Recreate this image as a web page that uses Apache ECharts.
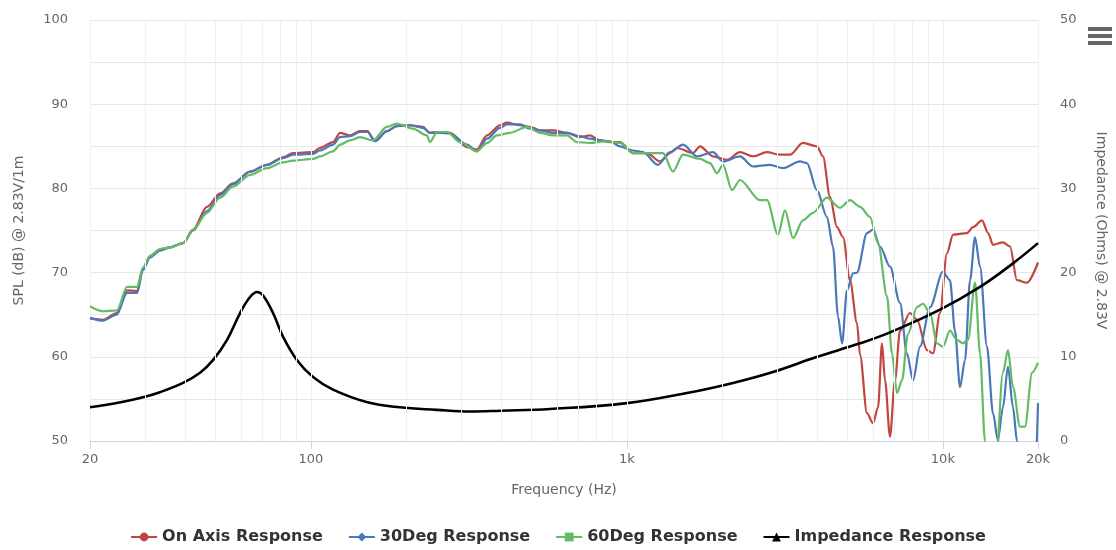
<!DOCTYPE html>
<html>
<head>
<meta charset="utf-8">
<script src="https://cdn.jsdelivr.net/npm/echarts@6/dist/echarts.min.js"></script>
<style>
html,body{margin:0;padding:0;background:#fff;}
#chart{width:1116px;height:550px;}
</style>
</head>
<body>
<div id="chart"></div>
<script>
// ---- data (frequency Hz, value) ----
const onAxis = [[20,64.6],[22,64.4],[24.3,65.2],[26.2,67.9],[28.2,67.8],[29.4,70.5],[31,72.0],[33.3,72.7],[35.8,73.0],[39.4,73.5],[42.4,75.1],[46.9,77.8],[51.6,79.4],[56.7,80.6],[64.2,82.0],[72.6,82.8],[81.6,83.7],[87.8,84.2],[101.6,84.3],[106.9,84.8],[117.5,85.5],[123.7,86.6],[133,86.3],[143,86.8],[151,86.8],[159.6,85.6],[174,86.8],[187,87.4],[206,87.5],[226,87.3],[238,86.6],[256,86.7],[276,86.6],[312,84.9],[335,84.6],[361,86.3],[397,87.5],[417,87.8],[459,87.5],[493,87.3],[531,86.9],[584,86.9],[646,86.6],[710,86.1],[764,86.3],[822,85.7],[884,85.5],[951,85.5],[1045,84.2],[1158,84.2],[1274,83.2],[1369,84.2],[1441,84.8],[1618,84.2],[1704,85.0],[1873,83.8],[2074,83.4],[2280,84.3],[2508,83.8],[2776,84.3],[3053,84.0],[3283,84.0],[3608,85.4],[3995,85.0],[4174,83.8],[4394,79.0],[4623,75.4],[4832,74.2],[5082,69.1],[5348,64.0],[5470,60.2],[5752,53.3],[6012,52.1],[6235,54.0],[6416,61.6],[6560,57.2],[6803,50.5],[7052,57.2],[7317,63.1],[7871,65.2],[8281,64.4],[8909,60.8],[9308,60.4],[9797,65.2],[10300,72.3],[10770,74.5],[11920,74.7],[12460,75.4],[13300,76.2],[13900,74.7],[14410,73.3],[15490,73.6],[16310,73.1],[17160,69.1],[18450,68.8],[20000,71.2]];
const deg30 = [[20,64.6],[22,64.3],[24.3,65.0],[26.2,67.6],[28.2,67.6],[29.4,70.3],[31,71.8],[33.3,72.6],[35.8,73.0],[39.4,73.5],[42.4,75.0],[46.9,77.3],[51.6,79.2],[56.7,80.5],[64.2,82.0],[72.6,82.8],[81.6,83.6],[87.8,84.0],[101.6,84.1],[106.9,84.5],[117.5,85.2],[123.7,86.1],[133,86.2],[143,86.7],[151,86.7],[159.6,85.6],[174,86.8],[187,87.4],[206,87.5],[226,87.2],[238,86.6],[256,86.6],[276,86.5],[312,85.2],[335,84.4],[361,85.9],[397,87.2],[417,87.6],[459,87.6],[493,87.1],[531,86.9],[584,86.6],[646,86.6],[710,86.2],[764,85.9],[822,85.7],[884,85.6],[951,85.0],[1045,84.5],[1125,84.3],[1253,82.8],[1369,84.3],[1505,85.2],[1667,83.8],[1873,84.3],[2015,83.2],[2280,83.8],[2508,82.6],[2838,82.8],[3120,82.4],[3532,83.2],[3714,83.0],[3995,79.8],[4297,76.6],[4490,73.1],[4657,64.8],[4798,61.6],[4972,67.9],[5196,69.9],[5348,70.0],[5752,74.7],[6012,75.1],[6325,73.1],[6803,70.7],[7317,66.4],[7696,60.4],[8047,57.2],[8464,61.2],[9107,65.9],[10000,70.1],[10530,69.1],[10920,63.1],[11330,56.4],[11750,59.6],[12190,69.1],[12640,74.2],[13110,70.7],[13790,61.2],[14410,53.3],[14930,50.1],[15490,54.0],[16070,58.8],[16670,54.0],[17160,50.0],[18000,44],[19500,44],[20000,54.5]];
const deg60 = [[20,66.0],[22,65.4],[24.3,65.5],[26.2,68.3],[28.2,68.3],[29.4,70.6],[31,72.0],[33.3,72.8],[35.8,73.0],[39.4,73.5],[42.4,75.1],[46.9,77.1],[51.6,78.9],[56.7,80.2],[64.2,81.6],[72.6,82.4],[81.6,83.1],[87.8,83.3],[101.6,83.5],[106.9,83.8],[117.5,84.4],[123.7,85.2],[133,85.7],[143,86.1],[157,85.7],[174,87.3],[187,87.7],[210,87.1],[233,86.3],[238,85.5],[251,86.7],[270,86.7],[296,85.5],[335,84.4],[361,85.4],[388,86.3],[427,86.6],[483,87.3],[531,86.6],[584,86.3],[646,86.3],[695,85.5],[764,85.4],[865,85.6],[951,85.4],[1045,84.2],[1209,84.2],[1301,84.2],[1399,82.0],[1505,84.0],[1704,83.5],[1833,83.0],[1928,81.8],[2015,82.8],[2151,79.8],[2280,81.0],[2638,78.6],[2776,78.6],[3008,74.5],[3164,77.4],[3356,74.1],[3608,76.2],[3882,77.1],[4297,78.9],[4724,77.7],[5082,78.6],[5470,77.8],[5880,76.6],[6235,73.5],[6655,67.2],[6902,60.4],[7157,55.7],[7424,57.2],[7755,62.7],[8281,65.9],[8650,66.3],[9107,65.2],[9578,61.6],[10000,61.2],[10530,63.1],[11080,62.0],[11580,61.6],[12010,62.0],[12640,68.8],[13110,60.4],[13590,50.0],[14000,45],[14600,45],[15490,58.1],[16070,60.8],[16670,56.4],[17540,51.7],[18190,51.7],[19150,58.1],[20000,59.3]];
const impedance = [[20,4.0],[25,4.6],[28.8,5.1],[33.3,5.8],[39.4,6.9],[44.6,8.1],[49,9.6],[54.3,12.0],[59.7,15.2],[64.2,17.1],[67.6,17.7],[70.5,17.3],[75.9,15.2],[81.6,12.4],[90.4,9.6],[101.6,7.6],[117.5,6.1],[151,4.6],[191,4.0],[250,3.7],[319,3.5],[400,3.6],[571,3.8],[1000,4.5],[1549,5.7],[2167,6.9],[2900,8.2],[4000,10.0],[5470,11.6],[6803,12.9],[9797,15.6],[13110,18.3],[16670,21.1],[20000,23.5]];
const minorGridFreqs = [30,40,50,60,70,80,90,100,200,300,400,500,600,700,800,900,1000,2000,3000,4000,5000,6000,7000,8000,9000,10000];
const seriesNames = ['On Axis Response','30Deg Response','60Deg Response','Impedance Response'];
const seriesColors = ['#c0463f','#4a78b8','#63bb63','#000000'];
const seriesSymbols = ['circle','diamond','rect','triangle'];

const FONT = 'DejaVu Sans';
const chart = echarts.init(document.getElementById('chart'), null, {renderer:'canvas'});
const splFreqData = [onAxis, deg30, deg60];

const series = splFreqData.map((d,i)=>({
  name: seriesNames[i], type:'line', data:d, yAxisIndex:0,
  symbol: seriesSymbols[i], symbolSize: 9, showSymbol:false,
  smooth:0.3, smoothMonotone:'x', clip:true,
  lineStyle:{width:2.2, color:seriesColors[i]}, itemStyle:{color:seriesColors[i]},
  z: 3
}));
series.push({
  name: seriesNames[3], type:'line', data:impedance, yAxisIndex:1,
  symbol: seriesSymbols[3], symbolSize: 10, showSymbol:false,
  smooth:0.4, clip:true,
  lineStyle:{width:2.6, color:'#000'}, itemStyle:{color:'#000'}, z: 4
});
series.push({
  name:'grid', type:'line', data:[], yAxisIndex:0, z:1, silent:true,
  markLine:{silent:true, symbol:'none', label:{show:false},
    lineStyle:{color:'#efefef', width:1, type:'solid'},
    data: minorGridFreqs.map(f=>({xAxis:f}))}
});

chart.setOption({
  animation:false,
  backgroundColor:'#ffffff',
  textStyle:{fontFamily:FONT},
  grid:{left:90, right:78, top:20, bottom:109, containLabel:false},
  legend:{
    data: seriesNames, bottom:0, left:'center',
    itemWidth:26, itemHeight:11, itemGap:25,
    textStyle:{fontFamily:FONT, fontSize:16, fontWeight:'bold', color:'#333'}
  },
  xAxis:{
    type:'log', logBase:10, min:20, max:20000,
    name:'Frequency (Hz)', nameLocation:'middle', nameGap:42,
    nameTextStyle:{color:'#666', fontSize:14, fontFamily:FONT},
    axisLine:{show:true, lineStyle:{color:'#ccd6eb', width:1}},
    axisTick:{show:true, length:8, lineStyle:{color:'#ccd6eb'}},
    axisLabel:{color:'#666', fontSize:13, margin:12, fontFamily:FONT,
      formatter: v => v >= 1000 ? (Math.round(v/1000)) + 'k' : String(Math.round(v))},
    splitLine:{show:true, lineStyle:{color:'#efefef', width:1}}
  },
  yAxis:[{
    type:'value', min:50, max:100, interval:5, position:'left',
    name:'SPL (dB) @ 2.83V/1m', nameLocation:'middle', nameGap:64, nameRotate:90,
    nameTextStyle:{color:'#666', fontSize:14, fontFamily:FONT},
    axisLine:{show:false}, axisTick:{show:false},
    axisLabel:{color:'#666', fontSize:13, margin:22, fontFamily:FONT,
      formatter: v => (v % 10 === 0 ? String(v) : '')},
    splitLine:{show:true, lineStyle:{color:'#e6e6e6', width:1}}
  },{
    type:'value', min:0, max:50, interval:10, position:'right',
    name:'Impedance (Ohms) @ 2.83V', nameLocation:'middle', nameGap:56, nameRotate:-90,
    nameTextStyle:{color:'#666', fontSize:14, fontFamily:FONT},
    axisLine:{show:false}, axisTick:{show:false},
    axisLabel:{color:'#666', fontSize:13, margin:22, fontFamily:FONT},
    splitLine:{show:false}
  }],
  graphic:[
    {type:'rect', shape:{x:1088, y:27, width:24, height:4}, style:{fill:'#666'}},
    {type:'rect', shape:{x:1088, y:34, width:24, height:4}, style:{fill:'#666'}},
    {type:'rect', shape:{x:1088, y:41, width:24, height:4}, style:{fill:'#666'}}
  ],
  series: series
});
</script>
</body>
</html>
